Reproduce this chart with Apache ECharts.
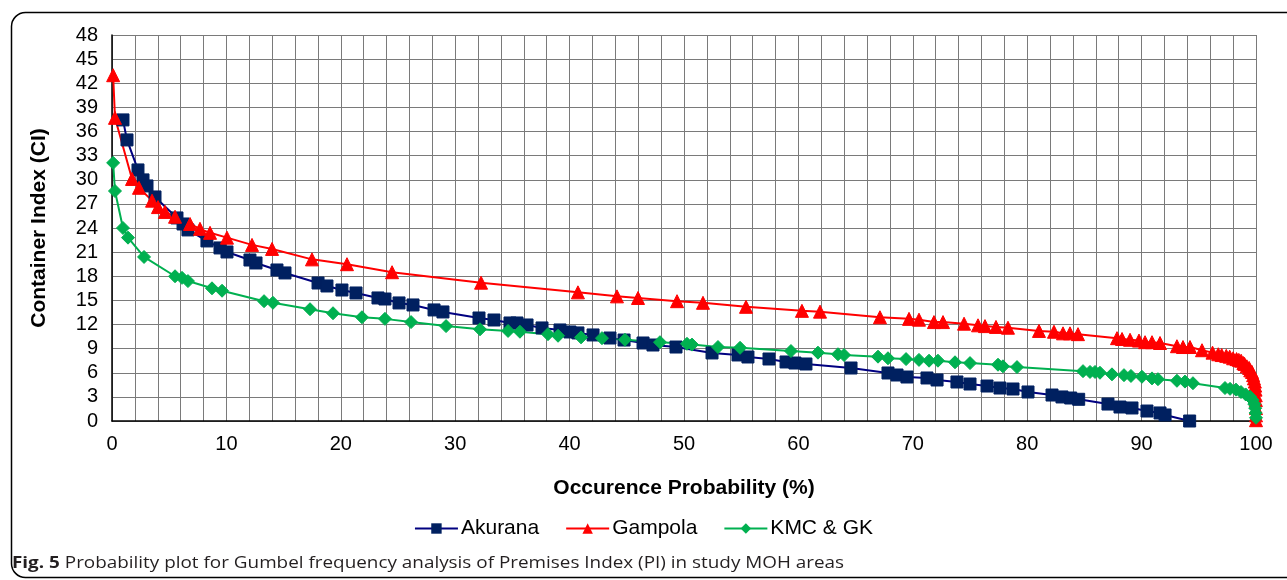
<!DOCTYPE html>
<html>
<head>
<meta charset="utf-8">
<script src="https://cdn.jsdelivr.net/npm/echarts@6/dist/echarts.min.js"></script>
<style>
html,body{margin:0;padding:0;background:#fff;}
#chart{width:1287px;height:580px;}
</style>
</head>
<body>
<div id="chart"></div>
<script>
// ---- Data ----
const seriesNames = ['Akurana', 'Gampola', 'KMC & GK'];
const xTicks = [0, 10, 20, 30, 40, 50, 60, 70, 80, 90, 100];
const yTicks = [0, 3, 6, 9, 12, 15, 18, 21, 24, 27, 30, 33, 36, 39, 42, 45, 48];

const akuranaX = [0.96,1.31,2.27,2.71,3.06,3.76,5.68,6.21,6.64,8.30,9.44,10.05,12.06,12.59,14.42,15.12,18.01,18.79,20.10,21.33,23.25,23.86,25.09,26.31,28.15,28.93,32.08,33.39,34.79,35.40,36.28,37.59,39.16,40.03,40.73,42.05,43.53,44.76,46.42,47.29,49.30,52.45,54.72,55.59,57.43,58.92,59.70,60.66,64.60,67.83,68.62,69.49,71.24,72.12,73.86,75.00,76.49,77.62,78.76,80.07,82.17,83.04,83.80,84.50,87.06,88.11,89.16,90.47,91.61,92.05,94.20];
const akuranaY = [37.44,34.95,31.22,29.98,29.23,27.86,25.25,24.50,23.76,22.39,21.52,21.02,20.02,19.65,18.78,18.41,17.16,16.79,16.29,15.92,15.30,15.17,14.68,14.43,13.81,13.56,12.81,12.56,12.19,12.19,11.94,11.57,11.32,11.07,10.95,10.70,10.32,10.07,9.70,9.45,9.20,8.46,8.21,7.96,7.71,7.34,7.21,7.09,6.59,5.97,5.72,5.47,5.35,5.10,4.85,4.60,4.35,4.10,3.98,3.61,3.23,2.99,2.86,2.70,2.11,1.74,1.62,1.24,1.00,0.75,0.00];

const gampolaX = [0.10,0.26,1.75,2.36,3.50,4.02,4.63,5.51,6.82,7.69,8.57,10.05,12.24,13.99,17.48,20.54,24.48,32.26,40.73,44.14,45.98,49.39,51.66,55.42,60.31,61.89,67.13,69.67,70.54,71.85,72.64,74.48,75.70,76.31,77.27,78.32,81.03,82.34,83.13,83.74,84.44,87.85,88.29,88.99,89.77,90.30,90.91,91.61,93.09,93.62,94.23,95.28,96.2,96.7,97.0,97.4,97.7,98.0,98.3,98.5,98.7,98.9,99.0,99.2,99.4,99.5,99.65,99.75,99.82,99.9,99.93,99.96,99.98,99.99,100,100,100];
const gampolaY = [43.0,37.7,30.1,29.0,27.4,26.6,26.0,25.4,24.5,23.9,23.4,22.8,21.9,21.4,20.1,19.5,18.5,17.2,16.0,15.5,15.3,14.9,14.7,14.2,13.7,13.6,12.9,12.7,12.6,12.3,12.3,12.1,11.9,11.8,11.7,11.6,11.2,11.1,10.9,10.9,10.8,10.3,10.2,10.1,10.0,9.8,9.8,9.7,9.3,9.2,9.2,8.8,8.5,8.3,8.2,8.1,8.0,7.8,7.7,7.6,7.5,7.2,7.1,6.8,6.6,6.3,6.1,5.7,5.3,4.9,4.4,3.9,3.2,2.6,1.6,0.7,0.1];

const kmcX = [0.10,0.26,0.96,1.40,2.80,5.51,6.12,6.64,8.74,9.62,13.29,14.07,17.31,19.32,21.85,23.86,26.14,29.20,32.17,34.62,35.66,38.11,38.99,41.00,42.83,44.84,47.90,50.26,50.70,52.97,54.90,59.35,61.71,63.46,63.99,66.96,67.83,69.41,70.54,71.42,72.20,73.69,75.00,77.45,77.88,79.11,84.88,85.49,85.93,86.36,87.41,88.46,89.07,90.03,90.91,91.43,93.09,93.79,94.49,97.29,97.73,98.25,98.69,99.1,99.5,99.7,99.85,99.93,99.97,100];
const kmcY = [32.1,28.6,24.0,22.8,20.4,18.0,17.8,17.4,16.5,16.2,14.9,14.7,13.9,13.4,12.9,12.7,12.3,11.8,11.4,11.2,11.1,10.8,10.6,10.4,10.3,10.1,9.8,9.6,9.5,9.2,9.1,8.7,8.5,8.3,8.2,8.0,7.8,7.7,7.6,7.5,7.5,7.3,7.2,7.0,6.8,6.7,6.2,6.1,6.1,6.0,5.8,5.7,5.6,5.5,5.3,5.2,5.0,4.9,4.7,4.1,4.0,3.9,3.6,3.3,3.0,2.6,2.1,1.6,1.0,0.4];

const xTitle = 'Occurence Probability (%)';
const yTitle = 'Container Index (CI)';
const captionBold = 'Fig. 5';
const captionText = ' Probability plot for Gumbel frequency analysis of Premises Index (PI) in study MOH areas';

function pairs(xs, ys) { return xs.map((x, i) => [x, ys[i]]); }

const chart = echarts.init(document.getElementById('chart'), null, {renderer: 'canvas'});
const FONT = '"Liberation Sans", Arial, sans-serif';
const GRID = '#7a7a7a';

const option = {
  animation: false,
  backgroundColor: '#ffffff',
  grid: {left: 112, right: 31, top: 35, bottom: 159, containLabel: false},
  xAxis: {
    type: 'value', min: 0, max: 100, interval: 10,
    axisLine: {show: true, lineStyle: {color: '#000', width: 1.5}},
    axisTick: {show: false},
    minorTick: {show: false, splitNumber: 5},
    axisLabel: {color: '#000', fontSize: 20, fontFamily: FONT, margin: 13,
      formatter: v => xTicks.includes(v) ? String(v) : ''},
    splitLine: {show: true, lineStyle: {color: GRID, width: 1}},
    minorSplitLine: {show: true, lineStyle: {color: GRID, width: 1}},
    name: xTitle, nameLocation: 'middle', nameGap: 57,
    nameTextStyle: {color: '#000', fontSize: 21, fontWeight: 'bold', fontFamily: FONT}
  },
  yAxis: {
    type: 'value', min: 0, max: 48, interval: 3,
    axisLine: {show: true, lineStyle: {color: '#000', width: 1.5}},
    axisTick: {show: false},
    axisLabel: {color: '#000', fontSize: 20, fontFamily: FONT, margin: 14,
      formatter: v => yTicks.includes(v) ? String(v) : ''},
    splitLine: {show: true, lineStyle: {color: GRID, width: 1}},
    name: yTitle, nameLocation: 'middle', nameGap: 62, nameRotate: 90,
    nameTextStyle: {color: '#000', fontSize: 21, fontWeight: 'bold', fontFamily: FONT}
  },
  legend: {
    top: 513, left: 'center', itemWidth: 43, itemHeight: 13, itemGap: 26,
    textStyle: {color: '#000', fontSize: 21, fontFamily: FONT, padding: [0,0,0,-2]},
    data: seriesNames
  },
  series: [
    {
      name: seriesNames[0], type: 'line', data: pairs(akuranaX, akuranaY),
      symbol: 'rect', symbolSize: 12,
      lineStyle: {color: '#000080', width: 2},
      itemStyle: {color: '#002060', borderColor: '#002060'}
    },
    {
      name: seriesNames[1], type: 'line', data: pairs(gampolaX, gampolaY),
      symbol: 'triangle', symbolSize: 13,
      lineStyle: {color: '#ff0000', width: 2},
      itemStyle: {color: '#ff0000', borderColor: '#ff0000'}
    },
    {
      name: seriesNames[2], type: 'line', data: pairs(kmcX, kmcY),
      symbol: 'diamond', symbolSize: 13,
      lineStyle: {color: '#00b050', width: 2},
      itemStyle: {color: '#00b050', borderColor: '#00b050'}
    }
  ],
  graphic: [
    {
      type: 'rect', left: 9, top: 10, silent: true, z: -1,
      shape: {width: 1300, height: 565, r: 14},
      style: {fill: 'none', stroke: '#000', lineWidth: 1.5}
    },
    {
      type: 'text', x: 12, y: 555, scaleX: 1.18, silent: true,
      style: {
        text: '{b|' + captionBold + '}{n|' + captionText + '}',
        rich: {
          b: {fontWeight: 'bold', fontSize: 16, fill: '#231f20', fontFamily: '"Open Sans", "Noto Sans", sans-serif'},
          n: {fontSize: 16, fill: '#231f20', fontFamily: '"Open Sans", "Noto Sans", sans-serif'}
        }
      }
    }
  ]
};
chart.setOption(option);
</script>
</body>
</html>
